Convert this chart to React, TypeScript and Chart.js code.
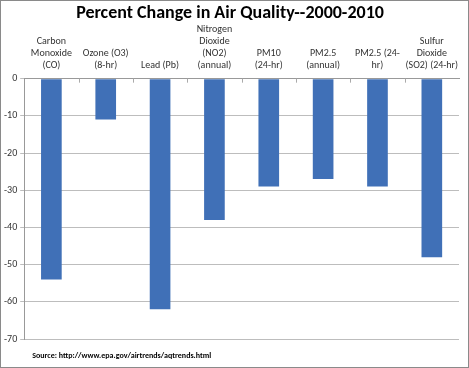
import React, { useEffect, useRef } from "react";
import { Chart, registerables } from "chart.js";

Chart.register(...registerables);

const categories: string[][] = [
  ["Carbon", "Monoxide", "(CO)"],
  ["Ozone (O3)", "(8-hr)"],
  ["Lead (Pb)"],
  ["Nitrogen", "Dioxide", "(NO2)", "(annual)"],
  ["PM10", "(24-hr)"],
  ["PM2.5", "(annual)"],
  ["PM2.5 (24-", "hr)"],
  ["Sulfur", "Dioxide", "(SO2) (24-hr)"],
];
const percentChange: number[] = [-54, -11, -62, -38, -29, -27, -29, -48];
const yMin = -70;
const yMax = 0;
const yStep = 10;
const titleText = "Percent Change in Air Quality--2000-2010";
const sourceText = "Source: http://www.epa.gov/airtrends/aqtrends.html";

const FONT = "Carlito, 'Open Sans', 'Liberation Sans', sans-serif";

const sourcePlugin = {
  id: "sourceNote",
  afterDraw(chart: any) {
    const { ctx, chartArea } = chart;
    ctx.save();
    ctx.font = `bold 8px ${FONT}`;
    ctx.fillStyle = "#000";
    ctx.textAlign = "left";
    ctx.textBaseline = "middle";
    ctx.fillText(sourceText, chartArea.left + 8, chartArea.bottom + 17);
    // small category tick marks hanging below the zero line
    const xs = chart.scales.x;
    const y0 = chart.scales.y.getPixelForValue(0);
    ctx.strokeStyle = "#aaa";
    ctx.lineWidth = 1;
    ctx.beginPath();
    for (let i = 1; i < categories.length; i++) {
      const x = Math.round(xs.getPixelForValue(i - 0.5)) + 0.5;
      ctx.moveTo(x, y0);
      ctx.lineTo(x, y0 + 4);
    }
    ctx.stroke();
    ctx.restore();
  },
};

export default function App() {
  const ref = useRef<HTMLCanvasElement | null>(null);
  useEffect(() => {
    if (!ref.current) return;
    const chart = new Chart(ref.current, {
      type: "bar",
      data: {
        labels: categories,
        datasets: [
          {
            data: percentChange,
            backgroundColor: "#4070b7",
            borderWidth: 0,
            categoryPercentage: 1,
            barPercentage: 0.38,
          },
        ],
      },
      plugins: [sourcePlugin],
      options: {
        animation: false,
        responsive: false,
        maintainAspectRatio: false,
        layout: { padding: { left: 0, right: 9, top: 0, bottom: 28 } },
        plugins: {
          legend: { display: false },
          tooltip: { enabled: false },
          title: {
            display: true,
            text: titleText,
            color: "#000",
            font: { family: FONT, size: 18, weight: "bold", lineHeight: 0.37 },
            padding: { top: 9, bottom: 0 },
          },
        },
        scales: {
          x: {
            position: "top",
            grid: { display: false, drawTicks: false, tickLength: 0 },
            border: { display: true, color: "#999" },
            ticks: {
              color: "#333",
              font: { family: FONT, size: 10, lineHeight: 1.2 },
              maxRotation: 0,
              autoSkip: false,
              padding: 7,
            },
          },
          y: {
            min: yMin,
            max: yMax,
            grid: { color: "#bdbdbd", tickLength: 4 },
            border: { display: true, color: "#999" },
            ticks: {
              stepSize: yStep,
              color: "#333",
              font: { family: FONT, size: 10 },
              padding: 3,
            },
          },
        },
      },
    });
    return () => chart.destroy();
  }, []);
  return (
    <div
      style={{
        position: "fixed",
        left: 0,
        top: 0,
        width: 469,
        height: 368,
        boxSizing: "border-box",
        border: "1px solid #8a8a8a",
        background: "#fff",
      }}
    >
      <canvas ref={ref} width={467} height={366} />
    </div>
  );
}
